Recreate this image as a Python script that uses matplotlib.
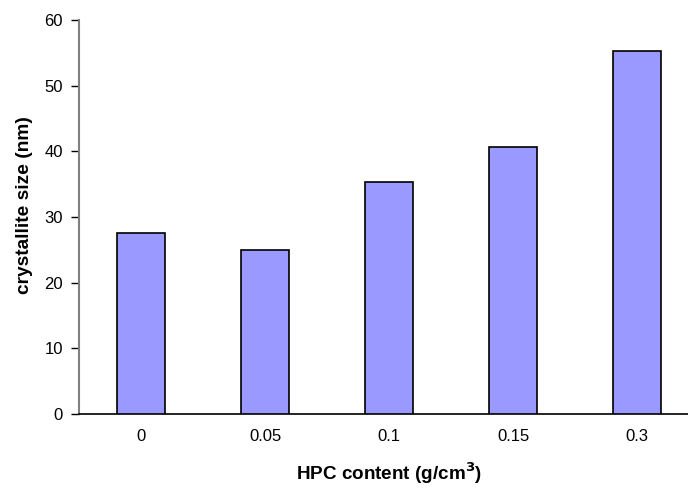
import matplotlib
matplotlib.use("Agg")
import matplotlib.pyplot as plt

categories = ["0", "0.05", "0.1", "0.15", "0.3"]
crystallite_size = [27.5, 24.9, 35.3, 40.7, 55.3]
y_ticks = [0, 10, 20, 30, 40, 50, 60]

plt.rcParams["font.family"] = ["Liberation Sans", "DejaVu Sans"]

fig = plt.figure(figsize=(6.88, 4.88), dpi=100)
ax = fig.add_axes([79 / 688, 1 - 414 / 488, 620 / 688, 394 / 488])

x = range(len(categories))
ax.bar(x, crystallite_size, width=0.395, color="#9999FF",
       edgecolor="black", linewidth=1.2, zorder=3)

ax.set_xlim(-0.5, len(categories) - 0.5)
ax.set_ylim(0, 60)
ax.set_yticks(y_ticks)
ax.set_xticks(list(x))
ax.set_xticklabels(categories)

ax.spines["top"].set_visible(False)
ax.spines["right"].set_visible(False)
ax.spines["left"].set_color("#808080")
ax.spines["left"].set_linewidth(1.5)
ax.spines["bottom"].set_color("black")
ax.spines["bottom"].set_linewidth(1.2)

ax.tick_params(axis="y", direction="out", length=5.5, width=1.0,
               color="black", labelsize=12, pad=6)
ax.tick_params(axis="x", length=0, labelsize=12, pad=11)

ax.set_ylabel("crystallite size (nm)", fontsize=13.8, fontweight="bold")
ax.set_xlabel("HPC content (g/cm$^\\mathbf{3}$)", fontsize=13.6, fontweight="bold", labelpad=12)
ax.yaxis.set_label_coords(-46 / 620, 0.53)

fig.savefig("out.png", dpi=100)
